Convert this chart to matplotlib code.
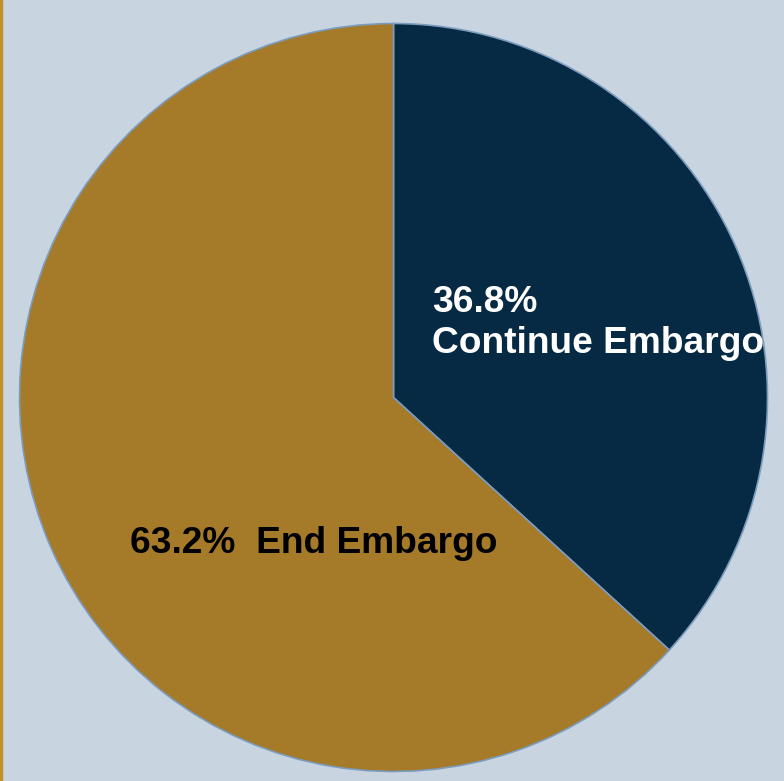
import matplotlib
matplotlib.use('Agg')
import matplotlib.pyplot as plt

LABELS = ['Continue Embargo', 'End Embargo']
SHARES = [36.8, 63.2]
COLORS = ['#062A43', '#A57A28']

W, H = 784, 781

fig = plt.figure(figsize=(W / 100, H / 100), dpi=100)
fig.patch.set_facecolor('#C8D4E0')
ax = fig.add_axes([0, 0, 1, 1])
ax.set_facecolor('#C8D4E0')

# pie, starting at 12 o'clock and going clockwise
ax.pie(SHARES, colors=COLORS, startangle=90, counterclock=False,
       center=(393.5, H - 397.5), radius=374, frame=True,
       wedgeprops=dict(edgecolor='#7C9CBE', linewidth=1.2))
ax.set_xlim(0, W)
ax.set_ylim(0, H)
ax.set_aspect('equal')
ax.axis('off')

# gold strip on the left edge
ax.axvspan(0, 2, color='#C0902A')

font = dict(family=['Liberation Sans', 'DejaVu Sans'], fontsize=26.7, fontweight='bold')
ax.text(432, H - 312, f'{SHARES[0]}%', color='white', va='baseline', ha='left', **font)
ax.text(432, H - 353, LABELS[0], color='white', va='baseline', ha='left', **font)
ax.text(130, H - 553, f'{SHARES[1]}%  {LABELS[1]}', color='black', va='baseline', ha='left', **font)

fig.savefig('out.png', dpi=100, facecolor=fig.get_facecolor())
